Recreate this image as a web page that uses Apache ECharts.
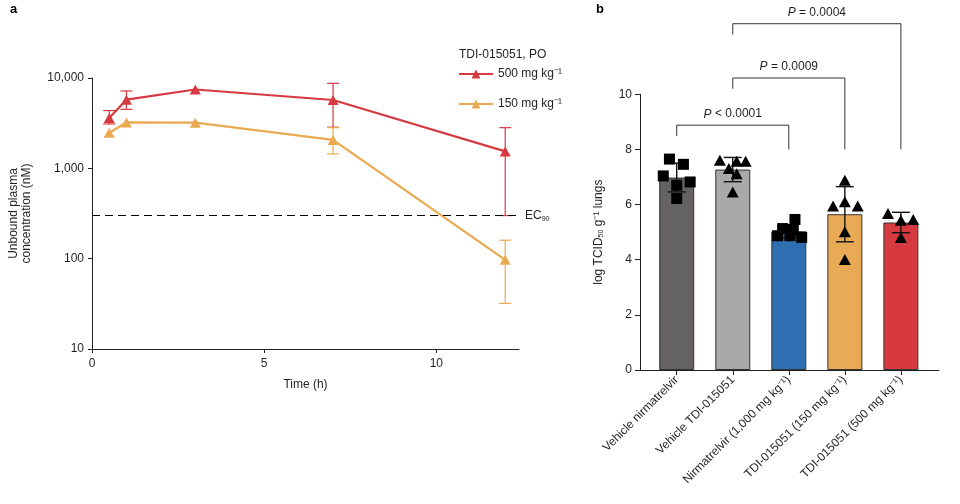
<!DOCTYPE html>
<html><head><meta charset="utf-8">
<script src="https://cdn.jsdelivr.net/npm/echarts@6/dist/echarts.min.js"></script>
<style>html,body{margin:0;padding:0;background:#fff}#c{width:960px;height:504px}</style>
</head><body><div id="c"></div>
<script>
// ---- Panel a: pharmacokinetics ----
const times = [0.5, 1, 3, 7, 12];
const conc500 = [3600, 5750, 7460, 5710, 1540];
const conc500Hi = [4360, 7180, null, 8730, 2820];
const conc500Lo = [3100, 4500, null, 2850, 300];
const conc150 = [2480, 3220, 3200, 2065, 97];
const conc150Hi = [null, null, null, 2820, 160];
const conc150Lo = [null, null, null, 1445, 32];
const ec90 = 300;
const seriesNames = ['500 mg kg⁻¹', '150 mg kg⁻¹'];

// ---- Panel b: lung titres ----
const groups = ['Vehicle nirmatrelvir', 'Vehicle TDI-015051', 'Nirmatrelvir (1,000 mg kg⁻¹)', 'TDI-015051 (150 mg kg⁻¹)', 'TDI-015051 (500 mg kg⁻¹)'];
const groupMeans = [6.98, 7.27, 5.03, 5.65, 5.35];
const groupSD = [0.52, 0.44, 0.24, 1.0, 0.37];
// individual animals: [jitter offset (category units), value]
const pts0 = [[-0.13, 7.65], [0.12, 7.46], [-0.24, 7.04], [0.24, 6.82], [0, 6.70], [0, 6.22]];
const pts1 = [[-0.23, 7.61], [-0.07, 7.31], [0.07, 7.57], [0.23, 7.57], [0.07, 7.12], [0, 6.46]];
const pts2 = [[-0.2, 4.87], [-0.11, 5.13], [0.02, 4.87], [0.11, 5.46], [0.08, 5.07], [0.23, 4.81]];
const pts3 = [[-0.21, 5.95], [0, 6.10], [0.23, 5.95], [0, 6.88], [0, 5.01], [0, 4.01]];
const pts4 = [[-0.23, 5.68], [0, 5.43], [0.22, 5.46], [0, 4.81]];
// significance brackets
const bracketFrom = [0, 1, 1];
const bracketTo = [2, 3, 4];
const bracketTop = [8.88, 10.59, 12.56];
const bracketLeftEnd = [8.49, 10.2, 12.17];
const bracketRightEnd = [8.0, 8.0, 8.0];
const bracketText = ['< 0.0001', '= 0.0009', '= 0.0004'];

const FONT = '"Liberation Sans", Arial, Helvetica, sans-serif';
const INK = '#231f20';
const RED = '#d63a40';
const ORANGE = '#eaa951';
const barColors = ['#646262', '#a9a9ac', '#2f6eb0', '#e9aa55', '#d63a3e'];

const chart = echarts.init(document.getElementById('c'), null, {renderer: 'canvas'});

function errRows(hi, lo) {
  const r = [];
  times.forEach((t, i) => { if (hi[i] != null) r.push([t, lo[i], hi[i]]); });
  return r;
}
function errRender(color, cap, w) {
  return function (params, api) {
    const x = api.value(0);
    const p1 = api.coord([x, api.value(1)]);
    const p2 = api.coord([x, api.value(2)]);
    const st = {stroke: color, lineWidth: w};
    return {type: 'group', children: [
      {type: 'line', shape: {x1: p1[0], y1: p1[1], x2: p2[0], y2: p2[1]}, style: st},
      {type: 'line', shape: {x1: p1[0] - cap, y1: p1[1], x2: p1[0] + cap, y2: p1[1]}, style: st},
      {type: 'line', shape: {x1: p2[0] - cap, y1: p2[1], x2: p2[0] + cap, y2: p2[1]}, style: st}
    ]};
  };
}

const barErrRows = groups.map((g, i) => [i, groupMeans[i] - groupSD[i], groupMeans[i] + groupSD[i]]);
function ptsData(list, gi) { return list.map(p => [gi + p[0], p[1]]); }

const bracketRows = bracketFrom.map((f, i) => [f, bracketTo[i], bracketTop[i], bracketLeftEnd[i], bracketRightEnd[i], i]);

const axisStyle = {lineStyle: {color: INK, width: 1}};
const labelStyle = {color: INK, fontFamily: FONT, fontSize: 12};

const option = {
  animation: false,
  backgroundColor: '#fff',
  title: [
    {text: 'a', left: 5, top: -2, textStyle: {fontFamily: FONT, fontWeight: 'bold', fontSize: 13, color: '#000'}},
    {text: 'b', left: 591, top: -2, textStyle: {fontFamily: FONT, fontWeight: 'bold', fontSize: 13, color: '#000'}},
    {text: 'TDI-015051, PO', left: 454, top: 44, textStyle: {fontFamily: FONT, fontWeight: 'normal', fontSize: 12, color: INK}}
  ],
  legend: {
    data: seriesNames, orient: 'vertical', left: 453, top: 63,
    itemWidth: 34, itemHeight: 11, itemGap: 18,
    textStyle: {fontFamily: FONT, fontSize: 12, color: INK}
  },
  grid: [
    {left: 92, top: 78, right: 441, bottom: 155},
    {left: 640, top: 94.3, right: 21, bottom: 134}
  ],
  xAxis: [
    {type: 'value', gridIndex: 0, min: 0, max: 12.4, interval: 5,
     name: 'Time (h)', nameLocation: 'middle', nameGap: 30,
     nameTextStyle: {fontFamily: FONT, fontSize: 12, color: INK},
     axisLine: axisStyle, axisTick: {length: 4, lineStyle: {color: INK}},
     axisLabel: Object.assign({margin: 9, showMaxLabel: false}, labelStyle),
     splitLine: {show: false}},
    {type: 'value', gridIndex: 1, min: -0.655, max: 4.68,
     axisLine: axisStyle,
     axisTick: {length: 5, lineStyle: {color: INK}, customValues: [0, 1, 2, 3, 4]},
     axisLabel: Object.assign({customValues: [0, 1, 2, 3, 4], rotate: 45, margin: 8,
       formatter: v => groups[Math.round(v)]}, labelStyle),
     splitLine: {show: false}}
  ],
  yAxis: [
    {type: 'log', gridIndex: 0, min: 10, max: 10000, logBase: 10,
     name: 'Unbound plasma\nconcentration (nM)', nameLocation: 'middle', nameGap: 59,
     nameTextStyle: {fontFamily: FONT, fontSize: 12, color: INK, lineHeight: 13},
     axisLine: {show: true, onZero: false, lineStyle: {color: INK, width: 1}},
     axisTick: {show: true, length: 4, lineStyle: {color: INK}},
     minorTick: {show: false},
     axisLabel: Object.assign({margin: 8, formatter: v => Number(v).toLocaleString('en-US')}, labelStyle),
     splitLine: {show: false}},
    {type: 'value', gridIndex: 1, min: 0, max: 10, interval: 2,
     name: 'log TCID{s|50} g⁻¹ lungs', nameLocation: 'middle', nameGap: 35,
     nameTextStyle: {fontFamily: FONT, fontSize: 12, color: INK,
       rich: {s: {fontSize: 7, fontFamily: FONT, color: INK, padding: [6, 0, 0, 0]}}},
     axisLine: {show: true, onZero: false, lineStyle: {color: INK, width: 1}},
     axisTick: {show: true, length: 5, lineStyle: {color: INK}},
     axisLabel: Object.assign({margin: 8}, labelStyle),
     splitLine: {show: false}}
  ],
  series: [
    {name: seriesNames[0], type: 'line', xAxisIndex: 0, yAxisIndex: 0,
     data: times.map((t, i) => [t, conc500[i]]),
     symbol: 'triangle', symbolSize: [11, 10], showAllSymbol: true,
     lineStyle: {color: RED, width: 2.2}, itemStyle: {color: RED, opacity: 1}, z: 3,
     markLine: {silent: true, symbol: 'none',
       lineStyle: {color: '#000', type: [8, 5], width: 1.2},
       label: {show: true, position: 'end', distance: 6,
         formatter: 'EC{s|90}', fontFamily: FONT, fontSize: 12, color: INK,
         rich: {s: {fontSize: 7, fontFamily: FONT, color: INK, padding: [6, 0, 0, 0]}}},
       data: [{yAxis: ec90}]}},
    {name: seriesNames[1], type: 'line', xAxisIndex: 0, yAxisIndex: 0,
     data: times.map((t, i) => [t, conc150[i]]),
     symbol: 'triangle', symbolSize: [11, 10], showAllSymbol: true,
     lineStyle: {color: ORANGE, width: 2.2}, itemStyle: {color: ORANGE, opacity: 1}, z: 3},
    {type: 'custom', xAxisIndex: 0, yAxisIndex: 0, data: errRows(conc500Hi, conc500Lo),
     encode: {x: 0, y: [1, 2]}, renderItem: errRender(RED, 6, 1.2), z: 2, silent: true},
    {type: 'custom', xAxisIndex: 0, yAxisIndex: 0, data: errRows(conc150Hi, conc150Lo),
     encode: {x: 0, y: [1, 2]}, renderItem: errRender(ORANGE, 6, 1.2), z: 2, silent: true},

    {type: 'bar', xAxisIndex: 1, yAxisIndex: 1, barWidth: 35,
     data: groupMeans.map((m, i) => ({value: [i, m], itemStyle: {color: barColors[i]}})),
     itemStyle: {borderColor: '#333', borderWidth: 1}, z: 2},
    {type: 'custom', xAxisIndex: 1, yAxisIndex: 1, data: barErrRows,
     encode: {x: 0, y: [1, 2]}, renderItem: errRender('#111', 9, 1.4), z: 3, silent: true},
    {type: 'scatter', xAxisIndex: 1, yAxisIndex: 1, symbol: 'rect', symbolSize: 11,
     data: ptsData(pts0, 0).concat(ptsData(pts2, 2)), itemStyle: {color: '#000', opacity: 1}, z: 4},
    {type: 'scatter', xAxisIndex: 1, yAxisIndex: 1, symbol: 'triangle', symbolSize: [12, 11],
     data: ptsData(pts1, 1).concat(ptsData(pts3, 3), ptsData(pts4, 4)), itemStyle: {color: '#000', opacity: 1}, z: 4},
    {type: 'custom', xAxisIndex: 1, yAxisIndex: 1, data: bracketRows, clip: false, silent: true,
     encode: {x: [0, 1], y: [2, 3, 4]},
     renderItem: function (params, api) {
       const f = api.value(0), t = api.value(1), top = api.value(2);
       const a = api.coord([f, api.value(3)]), b = api.coord([f, top]);
       const c = api.coord([t, top]), d = api.coord([t, api.value(4)]);
       const idx = api.value(5);
       return {type: 'group', children: [
         {type: 'polyline', shape: {points: [a, b, c, d]}, style: {stroke: '#333', lineWidth: 1, fill: null}},
         {type: 'text', x: (b[0] + c[0]) / 2, y: b[1] - 5,
          style: {text: '{i|P} ' + bracketText[idx], align: 'center', verticalAlign: 'bottom',
            fontFamily: FONT, fontSize: 12, fill: INK,
            rich: {i: {fontStyle: 'italic', fontFamily: FONT, fontSize: 12, fill: INK}}}}
       ]};
     }}
  ]
};
chart.setOption(option);
</script>
</body></html>
